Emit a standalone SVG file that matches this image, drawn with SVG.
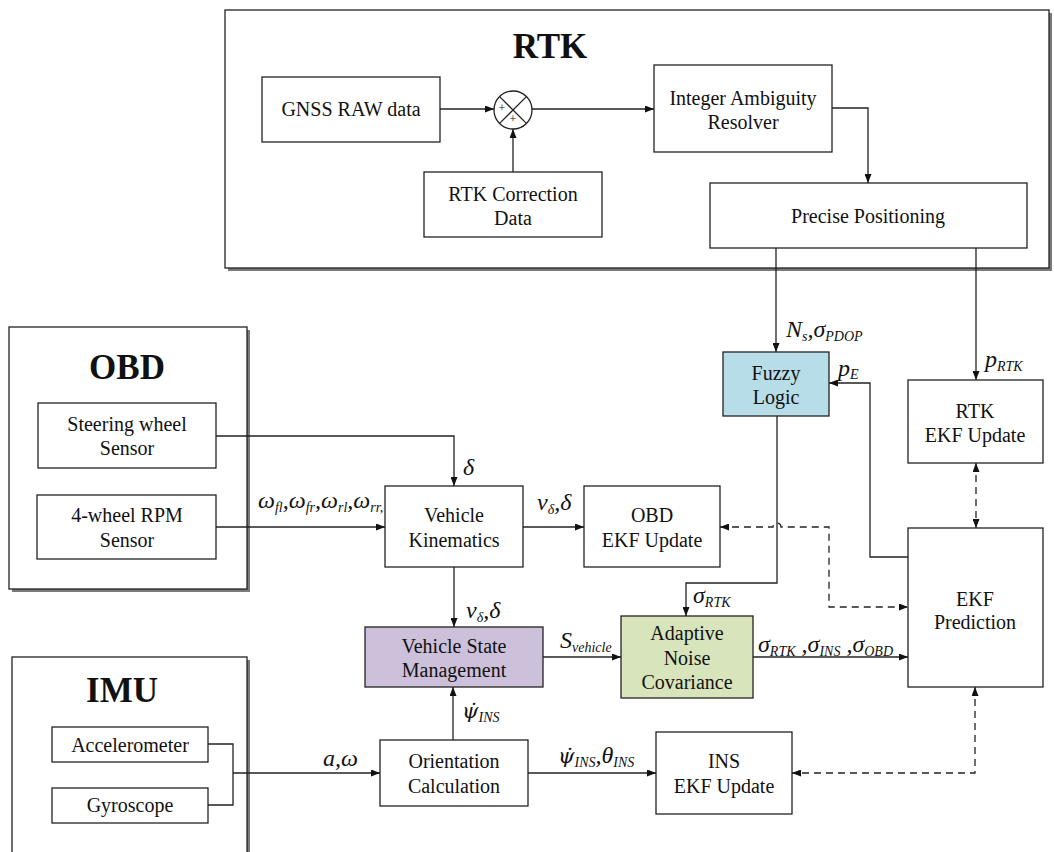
<svg xmlns="http://www.w3.org/2000/svg" width="1054" height="852" viewBox="0 0 1054 852">
<style>
text{font-family:"Liberation Serif","Times New Roman",serif;fill:#111}
.t{font-size:20px;text-anchor:middle}
.h{font-size:35px;font-weight:bold;text-anchor:middle}
.m{font-size:24px;font-style:italic}
.s{font-size:14px;font-style:italic}
.psi{font-family:"DejaVu Serif",serif;font-size:21px;font-style:italic}
.box{fill:#fff;stroke:#222;stroke-width:1.3}
.outer{fill:#fff;stroke:#222;stroke-width:1.3}
.shadow{fill:#7a7a7a}
.c{fill:none;stroke:#222;stroke-width:1.3}
.d{fill:none;stroke:#222;stroke-width:1.3;stroke-dasharray:7,5}
.arr{marker-end:url(#ah)}
.arr2{marker-start:url(#ah);marker-end:url(#ah)}
</style>
<defs>
<marker id="ah" viewBox="0 0 10 10" refX="10" refY="5" markerWidth="9" markerHeight="7" markerUnits="userSpaceOnUse" orient="auto-start-reverse" preserveAspectRatio="none"><path d="M0,0 L10,5 L0,10 z" fill="#111"/></marker>
</defs>

<g id="rtk-panel">
<rect class="shadow" x="228" y="13" width="824" height="258"/>
<rect class="outer" x="225" y="10" width="824" height="258"/>
<text class="h" x="550" y="58">RTK</text>
</g>
<g id="gnss-raw"><rect class="box" x="262" y="77" width="178" height="65"/><text class="t" x="351" y="116">GNSS RAW data</text></g>
<g id="sum-junction">
<circle cx="513" cy="110" r="19" fill="#fff" stroke="#222" stroke-width="1.3"/>
<path class="c" d="M499.6,96.6 L526.4,123.4 M526.4,96.6 L499.6,123.4"/>
<text x="502" y="112" font-size="12" text-anchor="middle">+</text>
<text x="513" y="123" font-size="12" text-anchor="middle">+</text>
</g>
<g id="rtk-correction"><rect class="box" x="424" y="172" width="178" height="65"/><text class="t" x="513" y="201">RTK Correction</text><text class="t" x="513" y="225">Data</text></g>
<g id="integer-ambiguity"><rect class="box" x="654" y="65" width="178" height="87"/><text class="t" x="743" y="105">Integer Ambiguity</text><text class="t" x="743" y="129">Resolver</text></g>
<g id="precise-positioning"><rect class="box" x="710" y="183" width="317" height="65"/><text class="t" x="868" y="223">Precise Positioning</text></g>

<g id="obd-panel">
<rect class="shadow" x="12" y="330" width="238" height="262"/>
<rect class="outer" x="9" y="327" width="238" height="262"/>
<text class="h" x="127" y="379">OBD</text>
</g>
<g id="steering-sensor"><rect class="box" x="38" y="403" width="178" height="65"/><text class="t" x="127" y="431">Steering wheel</text><text class="t" x="127" y="455">Sensor</text></g>
<g id="rpm-sensor"><rect class="box" x="37" y="495" width="179" height="64"/><text class="t" x="127" y="522">4-wheel RPM</text><text class="t" x="127" y="547">Sensor</text></g>

<g id="imu-panel">
<rect class="shadow" x="15" y="660" width="235" height="200"/>
<rect class="outer" x="12" y="657" width="235" height="200"/>
<text class="h" x="122" y="702">IMU</text>
</g>
<g id="accelerometer"><rect class="box" x="52" y="727" width="156" height="35"/><text class="t" x="130" y="752">Accelerometer</text></g>
<g id="gyroscope"><rect class="box" x="52" y="788" width="156" height="35"/><text class="t" x="130" y="812">Gyroscope</text></g>

<g id="vehicle-kinematics"><rect class="box" x="385" y="486" width="138" height="81"/><text class="t" x="454" y="522">Vehicle</text><text class="t" x="454" y="547">Kinematics</text></g>
<g id="obd-ekf"><rect class="box" x="584" y="486" width="136" height="81"/><text class="t" x="652" y="522">OBD</text><text class="t" x="652" y="547">EKF Update</text></g>
<g id="fuzzy-logic"><rect x="723" y="352" width="106" height="64" fill="#b7dde8" stroke="#222" stroke-width="1.3"/><text class="t" x="776" y="380">Fuzzy</text><text class="t" x="776" y="404">Logic</text></g>
<g id="rtk-ekf"><rect class="box" x="908" y="380" width="135" height="83"/><text class="t" x="975" y="418">RTK</text><text class="t" x="975" y="442">EKF Update</text></g>
<g id="ekf-prediction"><rect class="box" x="908" y="528" width="135" height="159"/><text class="t" x="975" y="606">EKF</text><text class="t" x="975" y="629">Prediction</text></g>
<g id="vehicle-state"><rect x="365" y="627" width="178" height="60" fill="#ccc0da" stroke="#222" stroke-width="1.3"/><text class="t" x="454" y="653">Vehicle State</text><text class="t" x="454" y="677">Management</text></g>
<g id="adaptive-noise"><rect x="621" y="616" width="132" height="82" fill="#d7e4bc" stroke="#222" stroke-width="1.3"/><text class="t" x="687" y="640">Adaptive</text><text class="t" x="687" y="665">Noise</text><text class="t" x="687" y="689">Covariance</text></g>
<g id="orientation"><rect class="box" x="380" y="740" width="148" height="66"/><text class="t" x="454" y="768">Orientation</text><text class="t" x="454" y="793">Calculation</text></g>
<g id="ins-ekf"><rect class="box" x="656" y="732" width="136" height="82"/><text class="t" x="724" y="768">INS</text><text class="t" x="724" y="793">EKF Update</text></g>

<g id="connectors">
<path class="c arr" d="M440,109 H494"/>
<path class="c arr" d="M513,172 V129"/>
<path class="c arr" d="M532,109 H654"/>
<path class="c arr" d="M832,108 H868 V183"/>
<path class="c arr" d="M776,248 V352"/>
<path class="c arr" d="M976,248 V380"/>
<path class="c arr" d="M216,436 H454 V486"/>
<path class="c arr" d="M216,527 H385"/>
<path class="c arr" d="M523,527 H584"/>
<path class="c arr" d="M454,567 V627"/>
<path class="c arr" d="M543,657 H621"/>
<path class="c arr" d="M777,416 V583 H686 V616"/>
<path class="c arr" d="M908,557 H870 V383 H829"/>
<path class="c arr" d="M753,657 H908"/>
<path class="c arr" d="M453,740 V687"/>
<path class="c" d="M208,744 H233 V805 H208"/>
<path class="c arr" d="M233,773 H380"/>
<path class="c arr" d="M528,773 H656"/>
<path class="d arr2" d="M976,463 V528"/>
<path class="d arr2" d="M720,527 H773 a4,4 0 0 1 8,0 H829 V607 H908"/>
<path class="d arr2" d="M975,687 V773 H792"/>
</g>

<g id="labels">
<text class="m" x="463" y="475">δ</text>
<text class="m" x="258" y="508">ω<tspan class="s" dy="4">fl</tspan><tspan dy="-4">,ω</tspan><tspan class="s" dy="4">fr</tspan><tspan dy="-4">,ω</tspan><tspan class="s" dy="4">rl</tspan><tspan dy="-4">,ω</tspan><tspan class="s" dy="4">rr</tspan><tspan class="s">,</tspan></text>
<text class="m" x="537" y="510">v<tspan class="s" dy="4">δ</tspan><tspan dy="-4">,δ</tspan></text>
<text class="m" x="466" y="618">v<tspan class="s" dy="4">δ</tspan><tspan dy="-4">,δ</tspan></text>
<text class="m" x="786" y="337">N<tspan class="s" dy="4">s</tspan><tspan dy="-4">,σ</tspan><tspan class="s" dy="4">PDOP</tspan></text>
<text class="m" x="838" y="376">p<tspan class="s" dy="3">E</tspan></text>
<text class="m" x="985" y="367">p<tspan class="s" dy="4">RTK</tspan></text>
<text class="m" x="693" y="603">σ<tspan class="s" dy="4">RTK</tspan></text>
<text class="m" x="560" y="648">S<tspan class="s" dy="4">vehicle</tspan></text>
<text class="m" x="758" y="652">σ<tspan class="s" dy="4">RTK</tspan><tspan dy="-4"> ,σ</tspan><tspan class="s" dy="4">INS</tspan><tspan dy="-4"> ,σ</tspan><tspan class="s" dy="4">OBD</tspan></text>
<text class="m" x="462" y="718"><tspan class="psi">ψ̇</tspan><tspan class="s" dy="4">INS</tspan></text>
<text class="m" x="323" y="766">a,ω</text>
<text class="m" x="558" y="763"><tspan class="psi">ψ̇</tspan><tspan class="s" dy="4">INS</tspan><tspan dy="-4">,θ</tspan><tspan class="s" dy="4">INS</tspan></text>
</g>
</svg>
